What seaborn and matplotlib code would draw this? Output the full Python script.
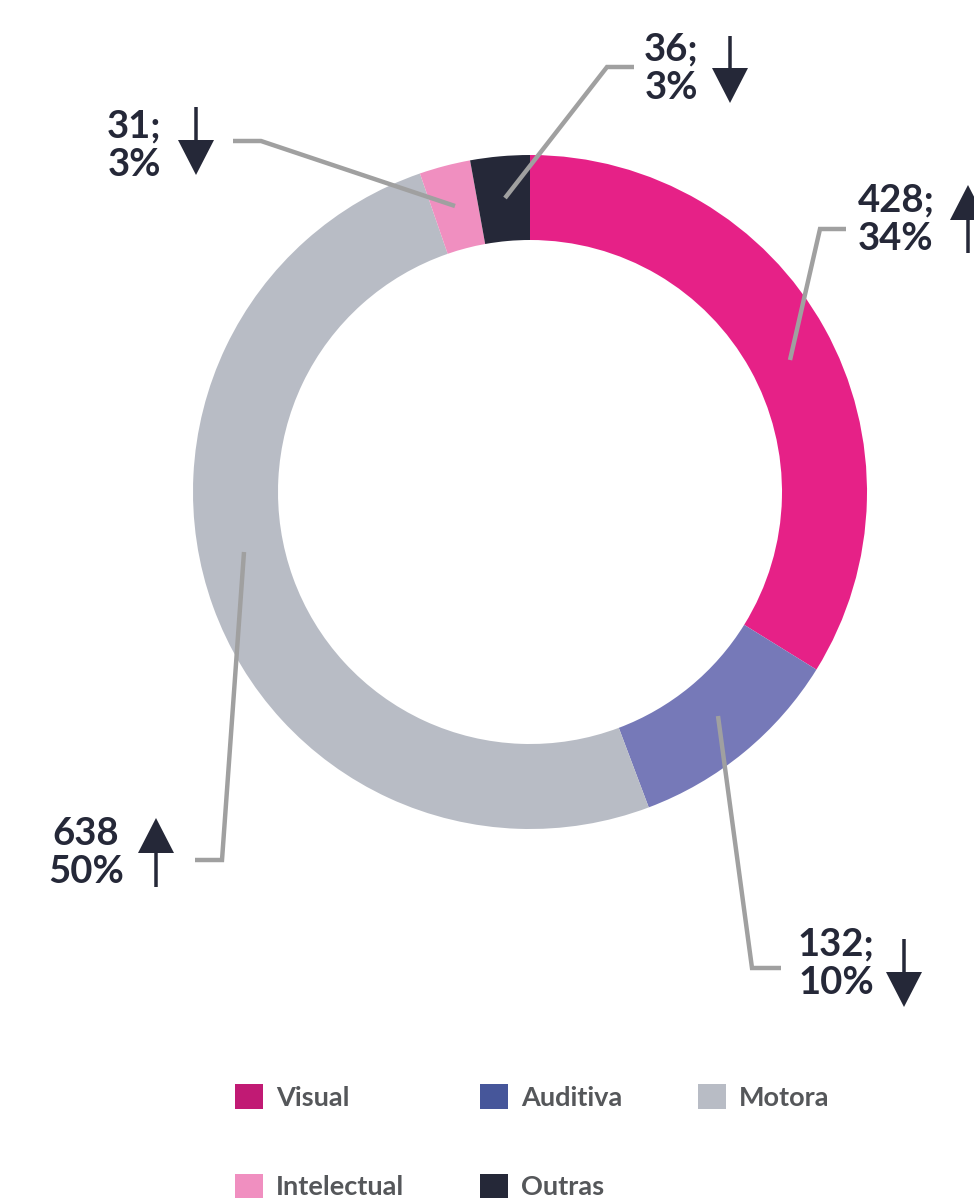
import matplotlib
matplotlib.use("Agg")
import matplotlib.pyplot as plt
import seaborn as sns
from matplotlib.patches import Patch, FancyArrow

# ---- data ----
categories = ["Visual", "Auditiva", "Motora", "Intelectual", "Outras"]
values = [428, 132, 638, 31, 36]
label_texts = ["428;\n34%", "132;\n10%", "638\n50%", "31;\n3%", "36;\n3%"]
trend = ["up", "down", "up", "down", "down"]

wedge_colors = ["#E62187", "#7679B8", "#B8BCC5", "#F08FC0", "#252838"]
legend_colors = ["#C11A74", "#46569A", "#B8BCC5", "#F08FC0", "#252838"]

sns.set_theme(style="white")
plt.rcParams["font.family"] = ["Lato", "DejaVu Sans"]

W, H = 974, 1203
fig = plt.figure(figsize=(W / 100, H / 100), dpi=100)
ax = fig.add_axes([0, 0, 1, 1])

def Y(y):
    return H - y

cx, cy, R, ring = 530, 492, 337, 85
ax.pie(values, colors=wedge_colors, startangle=90, counterclock=False,
       radius=R, center=(cx, Y(cy)),
       wedgeprops=dict(width=ring, edgecolor="none", linewidth=0))

ax.set_xlim(0, W)
ax.set_ylim(0, H)
ax.set_aspect("equal")
ax.axis("off")

# leader lines (layout)
leaders = [
    [(790, 360), (820, 229), (846, 229)],
    [(718, 716), (752, 968), (781, 968)],
    [(244, 552), (222, 860), (195, 860)],
    [(455, 206), (261, 141), (233, 141)],
    [(505, 198), (607, 67), (634, 67)],
]
label_pos = [(896, 220), (836, 964), (86, 853), (134, 146), (671, 69)]
arrow_x = [968, 904, 156, 196, 730]
arrow_span = [(253, 185), (939, 1007), (887, 818), (107, 175), (36, 103)]

dark = "#252838"
for i in range(len(categories)):
    pts = leaders[i]
    ax.plot([p[0] for p in pts], [Y(p[1]) for p in pts], color="#A0A0A0",
            lw=3.2, solid_capstyle="butt", solid_joinstyle="miter", zorder=3)
    lx, ly = label_pos[i]
    ax.text(lx, Y(ly), label_texts[i], ha="center", va="center",
            fontsize=27.5, fontweight="bold", color=dark, linespacing=1.17,
            zorder=4)
    y0, y1 = arrow_span[i]
    ax.add_patch(FancyArrow(arrow_x[i], Y(y0), 0, -(y1 - y0), width=3.5,
                            head_width=36, head_length=35,
                            length_includes_head=True, color=dark,
                            lw=0, zorder=4))

# legend: row-major order for 3 columns
order = [0, 3, 1, 4, 2]
handles = [Patch(facecolor=legend_colors[k], edgecolor="none") for k in order]
labels = [categories[k] for k in order]
leg = ax.legend(handles, labels, loc="upper left",
                bbox_to_anchor=(235, Y(1084)), bbox_transform=ax.transData,
                ncol=3, frameon=False, fontsize=19.5, handlelength=1.03,
                handleheight=1.03, handletextpad=0.48, columnspacing=2.8,
                labelspacing=2.36, borderpad=0, borderaxespad=0)
for t in leg.get_texts():
    t.set_color("#55575A")
    t.set_fontweight("bold")

fig.savefig("out.png", dpi=100)
